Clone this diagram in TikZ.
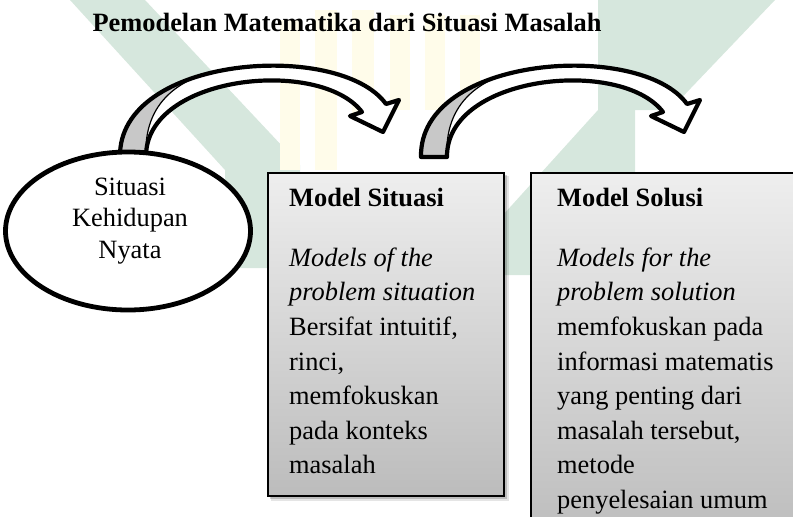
\documentclass[tikz,border=0pt]{standalone}
\usepackage{fontspec}
\setmainfont{Liberation Serif}
\usetikzlibrary{shapes.geometric}
\definecolor{wmgreen}{RGB}{214,231,221}
\definecolor{wmyellow}{RGB}{255,252,234}
\definecolor{boxtop}{RGB}{238,238,238}
\definecolor{boxbot}{RGB}{188,188,188}
\definecolor{bandgray}{RGB}{200,200,200}
\newcommand{\BodyFont}{\fontsize{26.4}{34.6}\selectfont}
\newcommand{\OvalFont}{\fontsize{26.4}{31.5}\selectfont}
\newcommand{\HeadFont}{\fontsize{26.4}{34.6}\selectfont\bfseries}
\newcommand{\CurvArrowShape}[1]{%
  \begin{scope}[xshift=#1]
    \fill[white] (120,157) .. controls (118,55) and (340,40) .. (386,104) -- (399,100) -- (383,132) -- (350,116) -- (362,112) .. controls (320,57) and (145,75) .. (146,157) -- cycle;
    \fill[bandgray] (120,157) .. controls (119.2,116.2) and (154.24,89.32) .. (199.5,75.85) .. controls (162,90) and (144,118) .. (146,157) -- cycle;
    \draw[line width=1.2pt] (146,157) .. controls (144,118) and (162,90) .. (199.5,75.85);
    \draw[arrowline] (120,157) .. controls (118,55) and (340,40) .. (386,104) -- (399,100) -- (383,132) -- (350,116) -- (362,112) .. controls (320,57) and (145,75) .. (146,157) -- cycle;
  \end{scope}}
\begin{document}
\begin{tikzpicture}[x=1pt,y=-1pt,
  arrowline/.style={draw=black,line width=4.2pt,line join=round},
  boxstyle/.style={draw=black,line width=2.2pt,top color=boxtop,bottom color=boxbot,inner sep=0pt,anchor=north west},
  oval/.style={ellipse,draw=black,line width=4.8pt,fill=white,inner sep=0pt},
  bodytext/.style={anchor=north west,align=left,inner sep=0pt,font=\BodyFont},
  headtext/.style={anchor=base west,inner sep=0pt,font=\HeadFont}]
\useasboundingbox (0,0) rectangle (793,517);
\clip (0,0) rectangle (793,517);
% watermark
\fill[wmgreen] (70,0) -- (145,0) -- (300,165) -- (300,268) -- (225,268) -- (225,170) -- cycle;
\fill[wmgreen] (598,0) rectangle (635,172);
\fill[wmgreen] (635,0) -- (775,0) -- (670,110) -- (635,110) -- cycle;
\fill[wmgreen] (503,275) -- (503,215) -- (598,110) -- (635,110) -- (635,172) -- (545,275) -- cycle;
\fill[wmyellow] (280,20) rectangle (300,170);
\fill[wmyellow] (315,10) rectangle (337,170);
\fill[wmyellow] (352,10) rectangle (374,120);
\fill[wmyellow] (390,15) rectangle (410,110);
\fill[wmyellow] (425,15) rectangle (445,110);
\fill[wmyellow] (460,15) rectangle (480,110);
% title
\node[anchor=base,inner sep=0pt,font=\fontsize{26.4}{30}\selectfont\bfseries] (title) at (347,31) {Pemodelan Matematika dari Situasi Masalah};
% curved arrows
\CurvArrowShape{0pt}
\CurvArrowShape{301pt}
% oval
\node[oval,minimum width=245,minimum height=158] (real) at (128,231) {};
\node[anchor=north,align=center,inner sep=0pt,font=\OvalFont] (realtext) at (130,173) {\strut Situasi\\Kehidupan\\Nyata};
% shadows
\fill[black,opacity=0.10] (271,176) rectangle (509,501);
\fill[black,opacity=0.18] (270,175) rectangle (507,499);
% boxes
\node[boxstyle,minimum width=236,minimum height=323] (msit) at (267,172) {};
\node[boxstyle,minimum width=290,minimum height=370] (msol) at (530,172) {};
\node[headtext] (msith) at (289,206) {Model Situasi};
\node[bodytext] (msitb) at (289,241.8) {\strut\textit{Models of the}\\\textit{problem situation}\\Bersifat intuitif,\\rinci,\\memfokuskan\\pada konteks\\masalah};
\node[headtext] (msolh) at (557,206) {Model Solusi};
\node[bodytext] (msolb) at (557,241.8) {\strut\textit{Models for the}\\\textit{problem solution}\\memfokuskan pada\\informasi matematis\\yang penting dari\\masalah tersebut,\\metode\\penyelesaian umum};
\end{tikzpicture}
\end{document}
